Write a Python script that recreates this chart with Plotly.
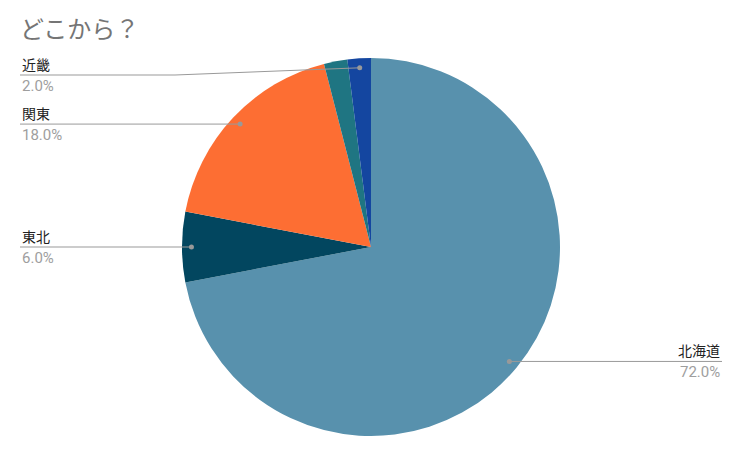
import math
import plotly.graph_objects as go

# slices clockwise from 12 o'clock
labels = ["北海道", "東北", "関東", "その他", "近畿"]
values = [72, 6, 18, 2, 2]
colors = ["#5891ad", "#02465f", "#fd6e33", "#1f7582", "#1446a0"]
show_label = [True, True, True, False, True]

# the page body has an 8px margin, so the figure is drawn 8px in from the window edge
PAD = 8
W, H = 744 - 2 * PAD, 453 - 2 * PAD
cx, cy, R = 371, 247, 189  # pie centre / radius in window px
LEFT_X, RIGHT_X = 20, 722
TOP_LINE = 75  # highest a left leader line may sit

def px(x):
    return (x - PAD) / W

def py(y):
    return (H - (y - PAD)) / H

fig = go.Figure(go.Pie(
    labels=labels, values=values, sort=False, direction="clockwise", rotation=0,
    marker=dict(colors=colors, line=dict(width=0)),
    textinfo="none", hoverinfo="label+percent", showlegend=False,
    domain=dict(x=[px(cx - R), px(cx + R)], y=[py(cy + R), py(cy - R)]),
))

total = sum(values)
shapes, annotations = [], []
start = 0.0
for lab, v, show in zip(labels, values, show_label):
    frac = v / total
    mid = math.radians((start + frac / 2) * 360)
    start += frac
    if not show:
        continue
    dx = cx + 0.95 * R * math.sin(mid)
    dy = cy - 0.95 * R * math.cos(mid)
    line = dict(type="line", xref="paper", yref="paper", line=dict(color="#999999", width=1))
    if dx < cx:
        ly = max(dy, TOP_LINE)
        bend = cx - R - 7 if ly != dy else dx
        shapes.append(dict(line, x0=px(dx), y0=py(dy), x1=px(bend), y1=py(ly)))
        shapes.append(dict(line, x0=px(bend), y0=py(ly), x1=px(LEFT_X), y1=py(ly)))
        tx, anchor = LEFT_X, "left"
    else:
        ly = dy
        shapes.append(dict(line, x0=px(dx), y0=py(ly), x1=px(RIGHT_X), y1=py(ly)))
        tx, anchor = RIGHT_X, "right"
    shapes.append(dict(type="circle", xref="paper", yref="paper",
                       x0=px(dx - 2.5), x1=px(dx + 2.5), y0=py(dy + 2.5), y1=py(dy - 2.5),
                       fillcolor="#999999", line=dict(width=0)))
    annotations.append(dict(x=px(tx), y=py(ly), xref="paper", yref="paper", text=lab,
                            showarrow=False, xanchor=anchor, yanchor="bottom",
                            font=dict(size=14, color="#222222")))
    annotations.append(dict(x=px(tx), y=py(ly), xref="paper", yref="paper",
                            text=f"{frac * 100:.1f}%", showarrow=False, xanchor=anchor, yanchor="top",
                            font=dict(size=15, color="#9e9e9e")))

fig.update_layout(
    width=W, height=H,
    margin=dict(l=0, r=0, t=0, b=0),
    paper_bgcolor="white",
    font=dict(family="Roboto, 'Noto Sans CJK JP', sans-serif"),
    title=dict(text="どこから？", x=px(20), xanchor="left", y=py(30), yanchor="middle",
               font=dict(size=24, color="#757575")),
    shapes=shapes,
    annotations=annotations,
)

fig.write_html("out.html")
